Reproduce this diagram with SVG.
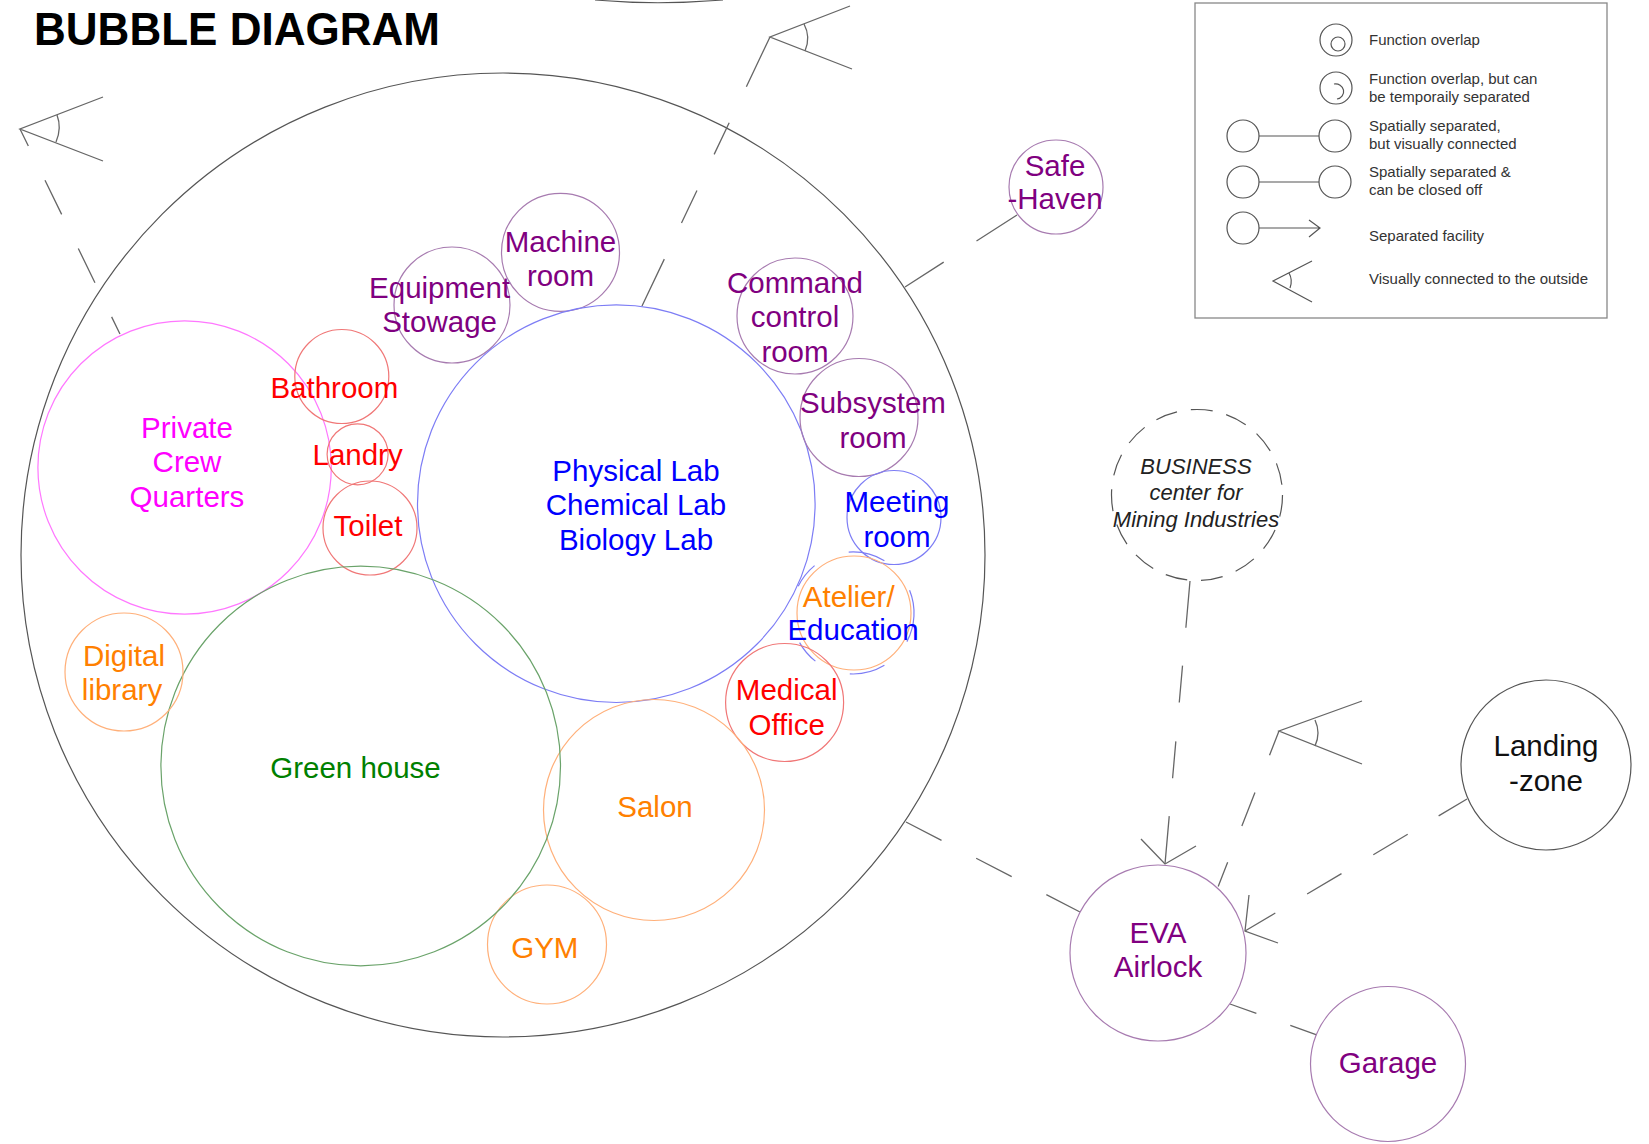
<svg xmlns="http://www.w3.org/2000/svg" width="1649" height="1144" viewBox="0 0 1649 1144">
<style>
text{font-family:"Liberation Sans",Arial,sans-serif;text-anchor:middle}
.lb{font-size:29.5px}
.c{fill:none;stroke-width:1.2}
.gr{fill:none;stroke:#555;stroke-width:1.2}
.ln{fill:none;stroke:#666;stroke-width:1.3}
.lg{font-size:15px;fill:#333;text-anchor:start}
.pu{fill:#800080}.cpu{stroke:#a77bb0}
.rd{fill:#ff0000}.crd{stroke:#f07777}
.mg{fill:#ff00ff}.cmg{stroke:#ff77ff}
.bl{fill:#0000ff}.cbl{stroke:#7d7df5}
.or{fill:#ff8000}.cor{stroke:#ffb07a}
.gn{fill:#008000}.cgn{stroke:#6aa36a}
.bk{fill:#111}.cbk{stroke:#555}
</style>
<rect width="1649" height="1144" fill="#fff"/>
<text x="34" y="45" font-size="47" font-weight="bold" textLength="406" lengthAdjust="spacingAndGlyphs" style="text-anchor:start" fill="#000">BUBBLE DIAGRAM</text>

<g id="top-arc"><path class="gr" d="M595,0 Q657,5.5 723,0"/></g>
<g id="habitat"><circle class="gr" cx="503" cy="555" r="482"/></g>

<g id="connectors">
  <path class="ln" d="M20,129 L120,334" stroke-dasharray="19 38 38 38 38 38 19"/>
  <path class="ln" d="M770,37 L642,306" stroke-dasharray="55 40 35 40 36 40 55"/>
  <path class="ln" d="M905,287 L1017,215" stroke-dasharray="46 39 50"/>
  <path class="ln" d="M906,822 L1080,912" stroke-dasharray="40 39"/>
  <path class="ln" d="M1230,1004 L1317,1035" stroke-dasharray="28 36 28"/>
  <path class="ln" d="M1190,581 L1165,864" stroke-dasharray="47 38 37 39 37 38 47"/>
  <path class="ln" d="M1141,839 L1165,864 L1196,846"/>
  <path class="ln" d="M1279,731 L1218,887" stroke-dasharray="26 40 36 39 26"/>
  <path class="ln" d="M1467,799 L1245,931" stroke-dasharray="33 36 40 37 40 37 40"/>
  <path class="ln" d="M1249,895 L1245,931 L1278,943"/>
</g>

<g id="eye-1">
  <path class="ln" d="M103,97 L20,129 L103,161"/>
  <path class="ln" d="M57,115 Q62,128 56,142"/>
</g>
<g id="eye-2">
  <path class="ln" d="M850,6 L770,37 L852,69"/>
  <path class="ln" d="M804,24 Q811,37 805,51"/>
</g>
<g id="eye-3">
  <path class="ln" d="M1362,701 L1279,731 L1362,764"/>
  <path class="ln" d="M1315,720 Q1321,733 1315,746"/>
</g>

<g id="private-crew-quarters">
  <circle class="c cmg" cx="184.6" cy="467.5" r="146.7"/>
  <text class="lb mg" x="187" y="437.5">Private</text>
  <text class="lb mg" x="187" y="472">Crew</text>
  <text class="lb mg" x="187" y="507">Quarters</text>
</g>
<g id="bathroom">
  <circle class="c crd" cx="341.8" cy="376.5" r="47"/>
  <text class="lb rd" x="334.4" y="397.5">Bathroom</text>
</g>
<g id="landry">
  <circle class="c crd" cx="357.6" cy="454.3" r="30.5"/>
  <text class="lb rd" x="357.6" y="465">Landry</text>
</g>
<g id="toilet">
  <circle class="c crd" cx="370" cy="528" r="47"/>
  <text class="lb rd" x="368" y="536">Toilet</text>
</g>
<g id="equipment-stowage">
  <circle class="c cpu" cx="452" cy="305" r="58"/>
  <text class="lb pu" x="439.6" y="297.5">Equipment</text>
  <text class="lb pu" x="439.6" y="332">Stowage</text>
</g>
<g id="machine-room">
  <circle class="c cpu" cx="560.5" cy="252.4" r="59"/>
  <text class="lb pu" x="560.5" y="251.5">Machine</text>
  <text class="lb pu" x="560.5" y="286">room</text>
</g>
<g id="labs">
  <circle class="c cbl" cx="616.3" cy="503.7" r="198.8"/>
  <text class="lb bl" x="636" y="480.5">Physical Lab</text>
  <text class="lb bl" x="636" y="515.3">Chemical Lab</text>
  <text class="lb bl" x="636" y="550">Biology Lab</text>
</g>
<g id="command-control-room">
  <circle class="c cpu" cx="795" cy="316" r="58"/>
  <text class="lb pu" x="795" y="293.4">Command</text>
  <text class="lb pu" x="795" y="327">control</text>
  <text class="lb pu" x="795" y="361.8">room</text>
</g>
<g id="subsystem-room">
  <circle class="c cpu" cx="859" cy="417.5" r="59"/>
  <text class="lb pu" x="873" y="413.3">Subsystem</text>
  <text class="lb pu" x="873" y="448">room</text>
</g>
<g id="meeting-room">
  <circle class="c cbl" cx="894" cy="517.5" r="47"/>
  <text class="lb bl" x="897" y="512">Meeting</text>
  <text class="lb bl" x="897" y="547">room</text>
</g>
<g id="atelier-education">
  <circle class="c cor" cx="854" cy="613" r="57"/>
  <path class="c cbl" d="M848.7,552.1 A61,61 0 0 1 884.4,560.7 M909.6,590.2 A61,61 0 0 1 906.9,641.6 M884.4,665.3 A61,61 0 0 1 849.8,673.9 M815.4,661.1 A61,61 0 0 1 799.6,642.6 M798.2,586.3 A61,61 0 0 1 814.6,565.6"/>
  <text class="lb or" x="848.7" y="607">Atelier/</text>
  <text class="lb bl" x="853" y="639.5">Education</text>
</g>
<g id="medical-office">
  <circle class="c crd" cx="784.6" cy="702.5" r="59"/>
  <text class="lb rd" x="786.7" y="700.4">Medical</text>
  <text class="lb rd" x="786.7" y="735">Office</text>
</g>
<g id="salon">
  <circle class="c cor" cx="654" cy="810" r="110.5"/>
  <text class="lb or" x="655" y="817">Salon</text>
</g>
<g id="gym">
  <circle class="c cor" cx="547" cy="944.5" r="59.5"/>
  <text class="lb or" x="544.8" y="958">GYM</text>
</g>
<g id="green-house">
  <circle class="c cgn" cx="360.7" cy="766" r="199.8"/>
  <text class="lb gn" x="355.5" y="778">Green house</text>
</g>
<g id="digital-library">
  <circle class="c cor" cx="124" cy="672" r="59"/>
  <text class="lb or" x="124" y="665.7">Digital</text>
  <text class="lb or" x="122" y="700.4">library</text>
</g>
<g id="safe-haven">
  <circle class="c cpu" cx="1056" cy="187" r="47"/>
  <text class="lb pu" x="1055" y="175.6">Safe</text>
  <text class="lb pu" x="1055" y="209.3">-Haven</text>
</g>
<g id="business-center">
  <circle class="gr" cx="1197" cy="495" r="85.5" stroke="#666" stroke-dasharray="22 14"/>
  <g font-size="22" font-style="italic" fill="#222">
    <text x="1196" y="474">BUSINESS</text>
    <text x="1196" y="500">center for</text>
    <text x="1196" y="526.5">Mining Industries</text>
  </g>
</g>
<g id="eva-airlock">
  <circle class="c cpu" cx="1158" cy="953" r="88"/>
  <text class="lb pu" x="1158" y="943.4">EVA</text>
  <text class="lb pu" x="1158" y="977">Airlock</text>
</g>
<g id="landing-zone">
  <circle class="c cbk" cx="1546" cy="765" r="85"/>
  <text class="lb bk" x="1546" y="756">Landing</text>
  <text class="lb bk" x="1546" y="791">-zone</text>
</g>
<g id="garage">
  <circle class="c cpu" cx="1388" cy="1064" r="77.5"/>
  <text class="lb pu" x="1388" y="1072.8">Garage</text>
</g>

<g id="legend">
  <rect x="1195" y="3" width="412" height="315" fill="none" stroke="#888" stroke-width="1.3"/>
  <circle class="gr" cx="1336" cy="40" r="16"/>
  <circle class="gr" cx="1338" cy="44" r="7"/>
  <text class="lg" x="1369" y="45">Function overlap</text>
  <circle class="gr" cx="1336" cy="88" r="16"/>
  <path class="gr" d="M1334,84 A8,7.5 0 1 1 1337,99"/>
  <text class="lg" x="1369" y="84">Function overlap, but can</text>
  <text class="lg" x="1369" y="102">be temporaily separated</text>
  <circle class="gr" cx="1243" cy="136" r="16"/>
  <circle class="gr" cx="1335" cy="136" r="16"/>
  <line class="gr" x1="1259" y1="136" x2="1319" y2="136"/>
  <text class="lg" x="1369" y="131">Spatially separated,</text>
  <text class="lg" x="1369" y="149">but visually connected</text>
  <circle class="gr" cx="1243" cy="182" r="16"/>
  <circle class="gr" cx="1335" cy="182" r="16"/>
  <line class="gr" x1="1259" y1="182" x2="1319" y2="182"/>
  <text class="lg" x="1369" y="177">Spatially separated &amp;</text>
  <text class="lg" x="1369" y="195">can be closed off</text>
  <circle class="gr" cx="1243" cy="228" r="16"/>
  <path class="gr" d="M1259,228 L1320,228 M1309,220 L1320,228 L1309,237"/>
  <text class="lg" x="1369" y="241">Separated facility</text>
  <path class="gr" d="M1312,261 L1273,281 L1312,302 M1289,273 Q1293,280 1290,288"/>
  <text class="lg" x="1369" y="284">Visually connected to the outside</text>
</g>
</svg>
